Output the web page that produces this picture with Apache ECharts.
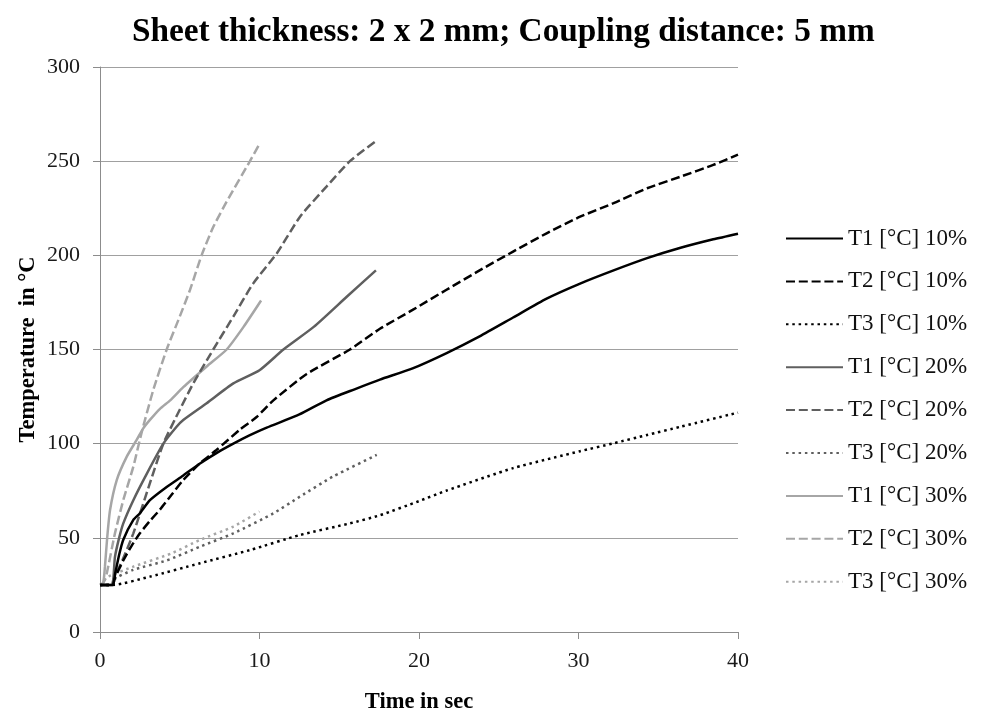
<!DOCTYPE html>
<html>
<head>
<meta charset="utf-8">
<script src="https://cdn.jsdelivr.net/npm/echarts@6/dist/echarts.min.js"></script>
<style>
html,body{margin:0;padding:0;background:#fff;}
#chart{width:982px;height:713px;}
</style>
</head>
<body>
<div id="chart"></div>
<script>
// ---- data (time in sec, temperature in °C) ----
const seriesNames = ["T1 [°C] 10%","T2 [°C] 10%","T3 [°C] 10%","T1 [°C] 20%","T2 [°C] 20%","T3 [°C] 20%","T1 [°C] 30%","T2 [°C] 30%","T3 [°C] 30%"];
const xTicks = [0,10,20,30,40];
const yTicks = [0,50,100,150,200,250,300];

const T1_10 = [[0,25],[0.8,25],[0.95,31],[1.2,41],[1.46,49],[2.09,59.5],[2.5,63],[3.13,70],[4.18,77],[5.2,83],[6.27,89.5],[7.3,95],[8.36,100],[9.4,104.5],[10.45,108.5],[12.5,115.5],[14.2,123],[16,129],[17.55,134],[19.6,140],[21.7,148],[23.8,157],[25.9,167],[28,177],[30.1,185],[32.2,192],[34.3,198.5],[36.4,204],[38.45,208.5],[40,211.5]];
const T2_10 = [[0,25],[0.8,25],[0.9,28],[1.46,38],[2.0,46],[2.5,52.4],[3.13,59],[3.76,65],[4.5,73],[5.22,80.7],[6.27,89.6],[7.3,96.6],[8.78,107.5],[9.8,114],[10.87,123],[12.96,137],[15.67,150],[17.55,161],[19.6,171],[21.7,181.6],[23.8,192],[25.9,202],[28,211.7],[30.1,220.5],[32.2,227.7],[34.3,235.6],[36.4,241.8],[38.45,248],[40,253.5]];
const T3_10 = [[0,25],[0.8,25],[3.13,29.4],[6.27,36.5],[9.4,43.5],[12.54,51.5],[15.67,57.7],[17.55,62],[20,69.5],[21.7,75],[25.9,87],[30.1,96],[32.2,100.2],[34.3,104.6],[36.4,109],[40,116.5]];
const T1_20 = [[0,25],[0.73,25],[0.94,40],[1.2,50],[1.46,57.7],[2.09,70],[2.93,84],[3.97,100],[4.8,109],[5.22,112.6],[6.69,121.5],[8.36,132],[10,139],[11.5,150],[13.4,162],[15.47,178],[17.3,192]];
const T2_20 = [[0,25],[0.75,25],[0.83,27.6],[1.4,38],[2.09,52.4],[3.13,79],[3.97,100],[5.0,118],[5.85,132],[7.1,150],[8.36,167.5],[9.6,185],[11.08,201],[12.54,220.5],[14.2,236.5],[15.67,250],[17.35,261]];
const T3_20 = [[0,25],[0.8,25],[0.83,27.6],[2.09,33],[4.18,38],[6.27,45.3],[8.36,52.4],[10.87,63],[12.54,71.9],[14.6,82.5],[17.35,94]];
const T1_30 = [[0,25],[0.2,26],[0.31,34.7],[0.45,50],[0.63,64.8],[1.05,80.7],[1.67,93],[2.3,102],[2.7,108],[3.13,112.6],[3.76,118.5],[4.4,123],[5.22,130],[6.69,141],[7.94,150],[9.0,162],[10.1,176]];
const T2_30 = [[0,25],[0.2,26],[0.42,31],[0.94,52.5],[1.46,70],[2.09,87.8],[2.6,105.6],[3.34,128.5],[4.18,150],[5.0,167.5],[5.64,181.6],[6.37,200],[7.1,215],[7.94,228.5],[9.4,250],[9.99,259]];
const T3_30 = [[0,25],[0.2,26],[0.42,29],[2.09,34.7],[4.5,41.8],[6.27,48.9],[8.36,56],[10.0,64]];

const seriesData = [T1_10,T2_10,T3_10,T1_20,T2_20,T3_20,T1_30,T2_30,T3_30];

// ---- styles ----
const colors = ['#000000','#000000','#000000','#5f5f5f','#5f5f5f','#5f5f5f','#a6a6a6','#a6a6a6','#a6a6a6'];
const dashSolid = 'solid';
const dashDash = [9,3.8];
const dashDot = [2.5,3.8];
const types = [dashSolid,dashDash,dashDot,dashSolid,dashDash,dashDot,dashSolid,dashDash,dashDot];

const serif = '"Liberation Serif","Times New Roman",serif';

const chart = echarts.init(document.getElementById('chart'), null, {renderer:'canvas'});
chart.setOption({
  animation:false,
  backgroundColor:'#ffffff',
  title:{
    text:'Sheet thickness: 2 x 2 mm; Coupling distance: 5 mm',
    left:127, top:11,
    textStyle:{fontFamily:serif,fontWeight:'bold',fontSize:33.3,color:'#000'}
  },
  grid:{left:100,right:244,top:67,bottom:81,outerBoundsMode:'none',containLabel:false},
  legend:{
    orient:'vertical', left:785, top:227, padding:0,
    itemWidth:57, itemHeight:14, itemGap:19.9,
    itemStyle:{opacity:0},
    textStyle:{fontFamily:serif,fontSize:23,color:'#111'},
    data:seriesNames
  },
  xAxis:{
    type:'value', min:0, max:40, interval:10,
    name:'Time in sec', nameLocation:'middle', nameGap:59, nameMoveOverlap:false,
    nameTextStyle:{fontFamily:serif,fontWeight:'bold',fontSize:22.5,color:'#000'},
    axisLine:{show:true,lineStyle:{color:'#8c8c8c',width:1}},
    axisTick:{show:true,length:7,lineStyle:{color:'#8c8c8c'}},
    axisLabel:{fontFamily:serif,fontSize:22,color:'#1a1a1a',margin:18},
    splitLine:{show:false}
  },
  yAxis:{
    type:'value', min:0, max:300, interval:50,
    name:'Temperature  in °C', nameLocation:'middle', nameGap:60, nameRotate:90, nameMoveOverlap:false,
    nameTextStyle:{fontFamily:serif,fontWeight:'bold',fontSize:22.5,color:'#000'},
    axisLine:{show:true,lineStyle:{color:'#8c8c8c',width:1}},
    axisTick:{show:true,length:7,lineStyle:{color:'#8c8c8c'}},
    axisLabel:{fontFamily:serif,fontSize:22,color:'#1a1a1a',margin:20},
    splitLine:{show:true,lineStyle:{color:'#a0a0a0',width:1}}
  },
  series: seriesNames.map((n,i)=>({
    name:n, type:'line', data:seriesData[i],
    symbol:'none', showSymbol:false, smooth:0.2,
    itemStyle:{color:colors[i]},
    lineStyle:{color:colors[i], width:2.5, type:types[i], cap:'butt'},
    z: 10 - i
  }))
});
</script>
</body>
</html>
